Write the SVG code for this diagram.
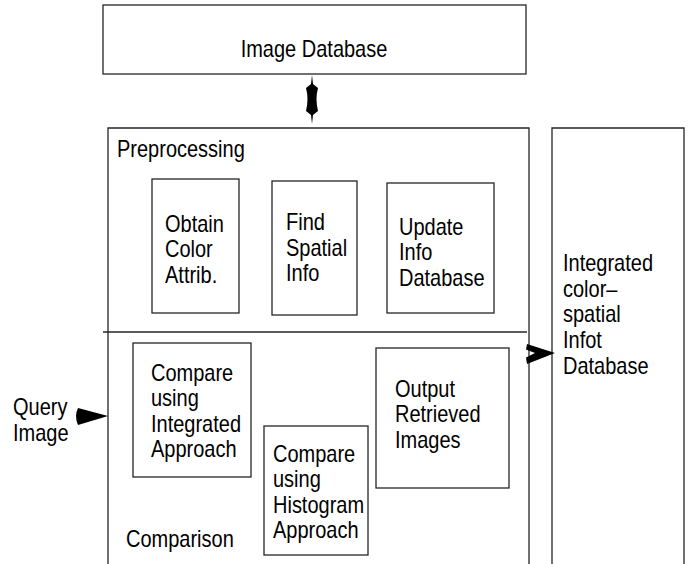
<svg xmlns="http://www.w3.org/2000/svg" width="688" height="564" viewBox="0 0 688 564">
  <style>
    .box { fill: none; stroke: #262626; stroke-width: 1.3; }
    .lbl { font-family: "Liberation Sans", Arial, sans-serif; font-size: 20px; fill: #000; }
    .head { fill: #000; stroke: none; }
  </style>
  <rect width="688" height="564" fill="#fff"/>

  <!-- labels use a tall face: each line is placed at its baseline and stretched vertically -->
  <g id="image-database">
    <rect class="box" x="103" y="5" width="423" height="69"/>
    <text class="lbl" transform="translate(314,57) scale(1,1.2)" text-anchor="middle">Image Database</text>
  </g>

  <g id="main-system">
    <path class="box" d="M108,570 V128 H529 V570"/>
    <line class="box" x1="103" y1="332" x2="527" y2="332"/>
  </g>

  <g id="preprocessing">
    <text class="lbl" transform="translate(117,157) scale(1,1.2)">Preprocessing</text>
  </g>

  <g id="obtain-color">
    <rect class="box" x="152" y="179" width="87" height="134"/>
    <text class="lbl" transform="translate(165,232) scale(1,1.2)">Obtain</text>
    <text class="lbl" transform="translate(165,257) scale(1,1.2)">Color</text>
    <text class="lbl" transform="translate(165,283) scale(1,1.2)">Attrib.</text>
  </g>

  <g id="find-spatial">
    <rect class="box" x="272" y="181" width="85" height="134"/>
    <text class="lbl" transform="translate(286,230) scale(1,1.2)">Find</text>
    <text class="lbl" transform="translate(286,256) scale(1,1.2)">Spatial</text>
    <text class="lbl" transform="translate(286,281) scale(1,1.2)">Info</text>
  </g>

  <g id="update-info">
    <rect class="box" x="387" y="183" width="107" height="130"/>
    <text class="lbl" transform="translate(399,235) scale(1,1.2)">Update</text>
    <text class="lbl" transform="translate(399,260) scale(1,1.2)">Info</text>
    <text class="lbl" transform="translate(399,286) scale(1,1.2)">Database</text>
  </g>

  <g id="compare-integrated">
    <rect class="box" x="133" y="343" width="118" height="134"/>
    <text class="lbl" transform="translate(151,381) scale(1,1.2)">Compare</text>
    <text class="lbl" transform="translate(151,406) scale(1,1.2)">using</text>
    <text class="lbl" transform="translate(151,432) scale(1,1.2)">Integrated</text>
    <text class="lbl" transform="translate(151,457) scale(1,1.2)">Approach</text>
  </g>

  <g id="compare-histogram">
    <rect class="box" x="264" y="426" width="104" height="129"/>
    <text class="lbl" transform="translate(273,462) scale(1,1.2)">Compare</text>
    <text class="lbl" transform="translate(273,487) scale(1,1.2)">using</text>
    <text class="lbl" transform="translate(273,513) scale(1,1.2)">Histogram</text>
    <text class="lbl" transform="translate(273,538) scale(1,1.2)">Approach</text>
  </g>

  <g id="output-retrieved">
    <rect class="box" x="376" y="348" width="133" height="140"/>
    <text class="lbl" transform="translate(395,397) scale(1,1.2)">Output</text>
    <text class="lbl" transform="translate(395,422) scale(1,1.2)">Retrieved</text>
    <text class="lbl" transform="translate(395,448) scale(1,1.2)">Images</text>
  </g>

  <g id="comparison">
    <text class="lbl" transform="translate(126,547) scale(1,1.2)">Comparison</text>
  </g>

  <g id="query-image">
    <text class="lbl" transform="translate(13,415) scale(1,1.2)">Query</text>
    <text class="lbl" transform="translate(13,441) scale(1,1.2)">Image</text>
  </g>

  <g id="color-spatial-db">
    <path class="box" d="M552,570 V128 H684 V570"/>
    <text class="lbl" transform="translate(563,271) scale(1,1.2)">Integrated</text>
    <text class="lbl" transform="translate(563,297) scale(1,1.2)">color–</text>
    <text class="lbl" transform="translate(563,322) scale(1,1.2)">spatial</text>
    <text class="lbl" transform="translate(563,348) scale(1,1.2)">Infot</text>
    <text class="lbl" transform="translate(563,374) scale(1,1.2)">Database</text>
  </g>

  <g id="connectors">
    <!-- two-way link between the image database and the system -->
    <path class="head" d="M312,75 L313,84 L318,88 Q315,99 318,111 L313,115 L312,124 L311,115 L306,111 Q309,99 306,88 L311,84 Z"/>
    <!-- query image entering comparison -->
    <path class="head" d="M108,416 L78,408 Q74,416 78,425 Z"/>
    <!-- output to the integrated database -->
    <path class="head" d="M555,353 L527,344 L526,349.5 L535,353 L526,357.5 L527,364 Z"/>
  </g>
</svg>
